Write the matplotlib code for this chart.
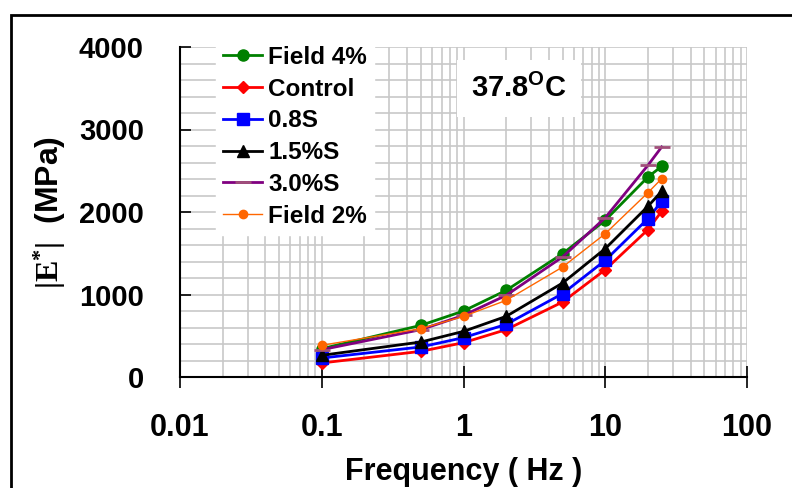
import numpy as np
import matplotlib.pyplot as plt
from matplotlib.patches import Rectangle
from matplotlib.ticker import FixedLocator, NullFormatter, MultipleLocator

plt.rcParams['font.family'] = 'Liberation Sans'
plt.rcParams['font.weight'] = 'bold'
plt.rcParams['mathtext.fontset'] = 'custom'
plt.rcParams['mathtext.rm'] = 'Liberation Sans:bold'
plt.rcParams['mathtext.tt'] = 'Liberation Serif:bold'

freq = [0.1, 0.5, 1, 2, 5, 10, 20, 25]
field4 = [343, 626, 800, 1050, 1495, 1900, 2424, 2553]
control = [170, 311, 416, 574, 909, 1301, 1786, 2008]
s08 = [230, 364, 477, 638, 1010, 1414, 1919, 2129]
s15 = [263, 424, 553, 735, 1139, 1556, 2069, 2250]
s30 = [331, 574, 747, 990, 1455, 1931, 2566, 2788]
field2 = [384, 586, 735, 929, 1333, 1737, 2234, 2404]

fig = plt.figure(figsize=(7.92, 4.88), dpi=100)
ax = fig.add_axes([180/792, 1 - 377/488, 567/792, 330/488])

ax.plot(freq, field4, color='#008000', marker='o', ms=8, lw=2, label='Field 4%')
ax.plot(freq, control, color='#FF0000', marker='D', ms=6.5, lw=2, label='Control')
ax.plot(freq, s08, color='#0000FF', marker='s', ms=8, lw=2, label='0.8S')
ax.plot(freq, s15, color='black', marker='^', ms=9, lw=2, label='1.5%S')
ax.plot(freq, s30, color='#800080', marker='_', ms=11, mew=2, mec='#a0507a', lw=2, label='3.0%S')
ax.plot(freq, field2, color='#FF6600', marker='o', ms=6, lw=1, label='Field 2%')

ax.set_xscale('log')
ax.set_xlim(0.01, 100)
ax.set_ylim(0, 4000)
ax.yaxis.set_major_locator(MultipleLocator(1000))
ax.yaxis.set_minor_locator(MultipleLocator(200))
ax.xaxis.set_major_locator(FixedLocator([0.01, 0.1, 1, 10, 100]))
ax.set_xticklabels(['0.01', '0.1', '1', '10', '100'])
minors = [m * 10.0**e for e in range(-2, 2) for m in range(2, 10)]
ax.xaxis.set_minor_locator(FixedLocator(minors))
ax.xaxis.set_minor_formatter(NullFormatter())

ax.grid(True, which='both', color='#c8c8c8', lw=1.2)
ax.set_axisbelow(True)
ax.spines['top'].set_visible(False)
ax.spines['right'].set_visible(False)
ax.spines['left'].set_linewidth(1.5)
ax.spines['bottom'].set_linewidth(1.5)

ax.tick_params(axis='x', which='major', direction='inout', length=16, width=1.2,
               labelsize=22, pad=18)
ax.tick_params(axis='x', which='minor', length=0)
ax.tick_params(axis='y', which='major', direction='in', length=8, width=1.2,
               labelsize=21, pad=26)
ax.tick_params(axis='y', which='minor', length=0)

ax.set_xlabel('Frequency ( Hz )', fontsize=22, fontweight='bold', labelpad=10)
ax.set_ylabel(r'$\mathtt{|E^{*}|}$  (MPa)', fontsize=23, fontweight='bold', labelpad=8)

leg = ax.legend(loc='upper left', bbox_to_anchor=(0.055, 1.04), frameon=True,
                fontsize=17.5, handlelength=1.6, handletextpad=0.25,
                labelspacing=0.36, borderaxespad=0.2, borderpad=0.3)
leg.get_frame().set_edgecolor('white')
leg.get_frame().set_facecolor('white')
leg.get_frame().set_alpha(1)

ax.text(0.598, 0.875, r'37.8$^{\mathrm{O}}$C', transform=ax.transAxes,
        fontsize=21, fontweight='bold', ha='center', va='center',
        bbox=dict(facecolor='white', edgecolor='none', pad=10))

fig.patches.append(Rectangle((11/792, -0.1), 1, 1 - 15/488 + 0.1,
                             transform=fig.transFigure, fill=False,
                             edgecolor='black', lw=2))

fig.savefig('out.png', dpi=100)
